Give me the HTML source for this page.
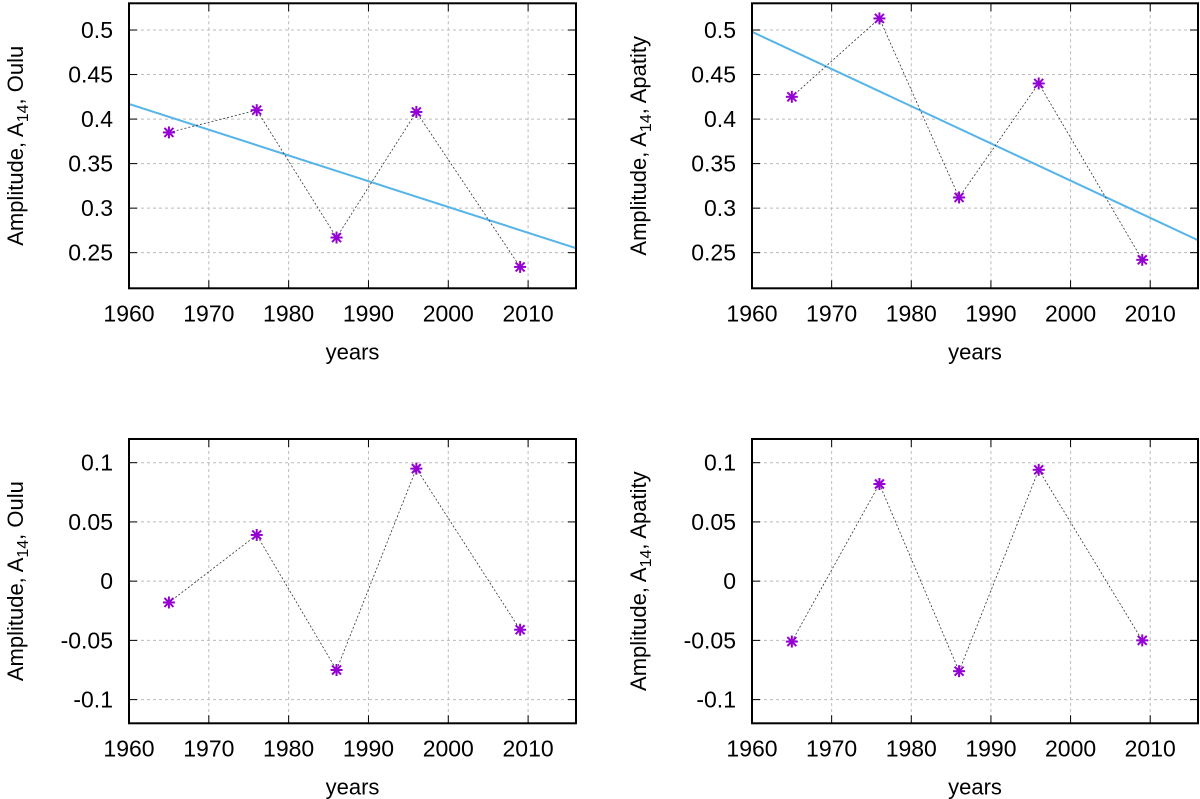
<!DOCTYPE html>
<html><head><meta charset="utf-8"><style>
body{margin:0;background:#fff}
svg{display:block;font-family:"Liberation Sans",sans-serif}
</style></head><body>
<svg id="c" width="1200" height="799" xmlns="http://www.w3.org/2000/svg"></svg>
<script>
const years=[1965,1976,1986,1996,2009];
const oluTop=[0.385,0.41,0.267,0.408,0.234];
const apaTop=[0.425,0.513,0.312,0.44,0.242];
const oluBot=[-0.018,0.039,-0.075,0.095,-0.041];
const apaBot=[-0.051,0.082,-0.076,0.094,-0.050];
const fitOlu=[0.417,0.255];
const fitApa=[0.498,0.264];
const xTicks=[1960,1970,1980,1990,2000,2010];
const yTicksTop=[0.25,0.3,0.35,0.4,0.45,0.5];
const yTicksBot=[-0.1,-0.05,0,0.05,0.1];
const yLabelsTop=['0.25','0.3','0.35','0.4','0.45','0.5'];
const yLabelsBot=['-0.1','-0.05','0','0.05','0.1'];
const NS='http://www.w3.org/2000/svg';
const svg=document.getElementById('c');
function mk(tag,attrs,parent){const e=document.createElementNS(NS,tag);for(const k in attrs)e.setAttribute(k,attrs[k]);(parent||svg).appendChild(e);return e;}
function panel(id,L,R,T,B,ymin,ymax,yt,yl,vals,fit,station){
  const g=mk('g',{});
  
  
  const sx=v=>L+(v-1960)/(2016-1960)*(R-L);
  const sy=v=>B-(v-ymin)/(ymax-ymin)*(B-T);
  xTicks.forEach(t=>{
    if(t>1960){const l=mk('line',{x1:sx(t),x2:sx(t),y1:T,y2:B,stroke:'#bbb','stroke-dasharray':'3,3','stroke-width':1},g);
    }
    mk('line',{x1:sx(t),x2:sx(t),y1:B,y2:B-8,stroke:'#000'},g);
    mk('line',{x1:sx(t),x2:sx(t),y1:T,y2:T+8,stroke:'#000'},g);
    const tx=mk('text',{x:sx(t),y:B+33,'text-anchor':'middle','font-size':23},g);tx.textContent=t;
    
  });
  yt.forEach((t,i)=>{
    const l=mk('line',{x1:L,x2:R,y1:sy(t),y2:sy(t),stroke:'#bbb','stroke-dasharray':'3,3','stroke-width':1},g);
    
    mk('line',{x1:L,x2:L+8,y1:sy(t),y2:sy(t),stroke:'#000'},g);
    mk('line',{x1:R,x2:R-8,y1:sy(t),y2:sy(t),stroke:'#000'},g);
    const tx=mk('text',{x:L-16,y:sy(t)+8,'text-anchor':'end','font-size':23},g);tx.textContent=yl[i];
    
  });
  const cp='clip'+id;const cl=mk('clipPath',{id:cp},g);mk('rect',{x:L,y:T,width:R-L,height:B-T},cl);
  if(fit){const f=mk('line',{x1:sx(1960),y1:sy(fit[0]),x2:sx(2016),y2:sy(fit[1]),stroke:'#56b4e9','stroke-width':2,'clip-path':'url(#'+cp+')'},g);
    }
  const pts=years.map((y,i)=>sx(y)+','+sy(vals[i])).join(' ');
  const pl=mk('polyline',{points:pts,fill:'none',stroke:'#333','stroke-width':0.8,'stroke-dasharray':'2,2'},g);
  
  years.forEach((y,i)=>{
    const x=sx(y),yy=sy(vals[i]);const m=mk('g',{stroke:'#9400d3','stroke-width':2},g);
    
    mk('line',{x1:x-6,x2:x+6,y1:yy,y2:yy},m);mk('line',{x1:x,x2:x,y1:yy-6,y2:yy+6},m);
    mk('line',{x1:x-4.5,x2:x+4.5,y1:yy-4.5,y2:yy+4.5},m);mk('line',{x1:x-4.5,x2:x+4.5,y1:yy+4.5,y2:yy-4.5},m);
  });
  const fr=mk('rect',{x:L,y:T,width:R-L,height:B-T,fill:'none',stroke:'#000','stroke-width':2},g);
  
  const xl=mk('text',{x:(L+R)/2,y:B+71,'text-anchor':'middle','font-size':22},g);xl.textContent='years';
  
  const cx=L-106,cy=(T+B)/2;
  const yl2=mk('text',{x:cx,y:cy,'text-anchor':'middle','font-size':22,transform:'rotate(-90 '+cx+' '+cy+')'},g);
  
  yl2.appendChild(document.createTextNode('Amplitude, A'));
  const s=mk('tspan',{'font-size':16,dy:5},yl2);s.textContent='14';
  const s2=mk('tspan',{dy:-5},yl2);s2.textContent=', '+station;
}
panel('panel-oulu-top',129,576,3.3,288.3,0.21,0.53,yTicksTop,yLabelsTop,oluTop,fitOlu,'Oulu');
panel('panel-apatity-top',752,1198,3.3,288.3,0.21,0.53,yTicksTop,yLabelsTop,apaTop,fitApa,'Apatity');
panel('panel-oulu-bottom',129,576,439,723.3,-0.12,0.12,yTicksBot,yLabelsBot,oluBot,null,'Oulu');
panel('panel-apatity-bottom',752,1198,439,723.3,-0.12,0.12,yTicksBot,yLabelsBot,apaBot,null,'Apatity');
</script>
</body></html>
